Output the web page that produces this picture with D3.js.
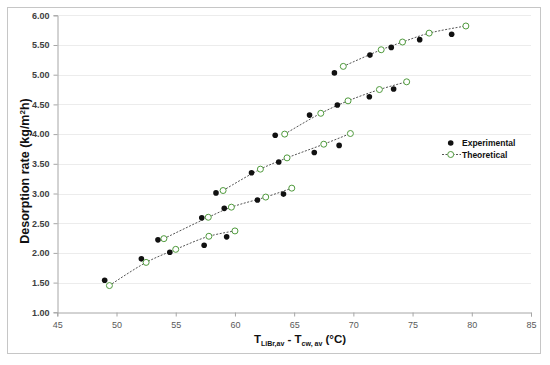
<!DOCTYPE html>
<html>
<head>
<meta charset="utf-8">
<script src="https://cdn.jsdelivr.net/npm/d3@7"></script>
<style>
  body { margin: 0; background: #fff; }
  text { font-family: "Liberation Sans", Arial, sans-serif; }
</style>
</head>
<body>
<div id="chart"></div>
<script>
// data, one run per group
var expX = [
  [49.0, 52.1, 54.5, 57.4, 59.3],
  [53.5, 57.2, 59.1, 61.9, 64.1],
  [58.4, 61.4, 63.7, 66.7, 68.8],
  [63.4, 66.3, 68.65, 71.35, 73.4],
  [68.4, 71.4, 73.2, 75.6, 78.3]
];
var expY = [
  [1.54, 1.90, 2.01, 2.13, 2.27],
  [2.22, 2.59, 2.75, 2.89, 2.99],
  [3.01, 3.35, 3.53, 3.69, 3.81],
  [3.98, 4.32, 4.49, 4.63, 4.76],
  [5.03, 5.33, 5.46, 5.59, 5.68]
];
var theoX = [
  [49.4, 52.5, 55.0, 57.8, 60.0],
  [54.0, 57.75, 59.7, 62.6, 64.8],
  [59.0, 62.15, 64.4, 67.5, 69.75],
  [64.2, 67.25, 69.55, 72.2, 74.5],
  [69.15, 72.35, 74.15, 76.4, 79.5]
];
var theoY = [
  [1.45, 1.84, 2.06, 2.28, 2.37],
  [2.24, 2.60, 2.77, 2.94, 3.09],
  [3.05, 3.41, 3.60, 3.83, 4.01],
  [4.00, 4.35, 4.56, 4.75, 4.88],
  [5.14, 5.42, 5.55, 5.70, 5.82]
];
var xTicks = [45, 50, 55, 60, 65, 70, 75, 80, 85];
var yTicks = [1.0, 1.5, 2.0, 2.5, 3.0, 3.5, 4.0, 4.5, 5.0, 5.5, 6.0];
var legendNames = ["Experimental", "Theoretical"];

var width = 550, height = 365;
var plotL = 57.3, plotR = 531, plotT = 15.3, plotB = 312.3;

var svg = d3.select("#chart").append("svg")
  .attr("width", width)
  .attr("height", height);

svg.append("rect")
  .attr("x", 7.5).attr("y", 7.5)
  .attr("width", 533).attr("height", 346)
  .attr("fill", "#fff")
  .attr("stroke", "#c6c6c6");

var x = d3.scaleLinear().domain([45, 85]).range([plotL, plotR]);
var y = d3.scaleLinear().domain([1, 6]).range([plotB, plotT]);

// gridlines
svg.append("g")
  .selectAll("line")
  .data(yTicks.slice(1))
  .enter().append("line")
  .attr("x1", plotL).attr("x2", plotR)
  .attr("y1", function(d) { return Math.round(y(d)) + 0.5 })
  .attr("y2", function(d) { return Math.round(y(d)) + 0.5 })
  .attr("stroke", "#ececec");

var xAxis = svg.append("g")
  .attr("transform", "translate(0," + (Math.round(plotB) + 0.5) + ")")
  .call(d3.axisBottom(x).tickValues(xTicks).tickSize(4).tickPadding(5));
xAxis.selectAll("text").attr("font-size", 9).attr("fill", "#595959");

var yAxis = svg.append("g")
  .attr("transform", "translate(" + (Math.round(plotL) + 0.5) + ",0)")
  .call(d3.axisLeft(y).tickValues(yTicks).tickFormat(d3.format(".2f")).tickSize(4).tickPadding(4));
yAxis.selectAll("text").attr("font-size", 9).attr("font-weight", "bold").attr("fill", "#404040");

svg.selectAll(".domain, .tick line").attr("stroke", "#a6a6a6");

// theoretical lines
var line = d3.line()
  .x(function(d) { return x(d[0]) })
  .y(function(d) { return y(d[1]) })
  .curve(d3.curveCatmullRom);

var theo = theoX.map(function(xs, i) {
  return xs.map(function(v, j) { return [v, theoY[i][j]] });
});
var expt = expX.map(function(xs, i) {
  return xs.map(function(v, j) { return [v, expY[i][j]] });
});

svg.append("g")
  .selectAll("path")
  .data(theo)
  .enter().append("path")
  .attr("d", line)
  .attr("fill", "none")
  .attr("stroke", "#555")
  .attr("stroke-width", 1)
  .attr("stroke-dasharray", "2,1.5");

svg.append("g")
  .selectAll("circle")
  .data(d3.merge(expt))
  .enter().append("circle")
  .attr("cx", function(d) { return x(d[0]) })
  .attr("cy", function(d) { return y(d[1]) })
  .attr("r", 2.8)
  .attr("fill", "#111");

svg.append("g")
  .selectAll("circle")
  .data(d3.merge(theo))
  .enter().append("circle")
  .attr("cx", function(d) { return x(d[0]) })
  .attr("cy", function(d) { return y(d[1]) })
  .attr("r", 3)
  .attr("fill", "#fff")
  .attr("stroke", "#4f9a3c")
  .attr("stroke-width", 1);

// legend
var lg = svg.append("g").attr("transform", "translate(442,143)");
lg.append("circle").attr("cx", 8.7).attr("cy", 0).attr("r", 2.8).attr("fill", "#111");
lg.append("line").attr("x1", 0).attr("x2", 19).attr("y1", 11.5).attr("y2", 11.5)
  .attr("stroke", "#555").attr("stroke-dasharray", "2,1.5");
lg.append("circle").attr("cx", 8.7).attr("cy", 11.5).attr("r", 3)
  .attr("fill", "#fff").attr("stroke", "#4f9a3c");
lg.selectAll("text")
  .data(legendNames)
  .enter().append("text")
  .attr("x", 20)
  .attr("y", function(d, i) { return i * 11.5 + 3 })
  .attr("font-size", 8.5)
  .attr("font-weight", "bold")
  .attr("fill", "#111")
  .text(function(d) { return d });

// axis titles
svg.append("text")
  .attr("transform", "translate(29,171) rotate(-90)")
  .attr("text-anchor", "middle")
  .attr("font-size", 12.5)
  .attr("font-weight", "bold")
  .attr("fill", "#111")
  .html("Desorption rate (kg/m<tspan dy='-4.5' font-size='8'>2</tspan><tspan dy='4.5'>h)</tspan>");

svg.append("text")
  .attr("x", 300)
  .attr("y", 343)
  .attr("text-anchor", "middle")
  .attr("font-size", 11.5)
  .attr("font-weight", "bold")
  .attr("fill", "#111")
  .html("T<tspan dy='3' font-size='7'>LiBr,av</tspan><tspan dy='-3'> - T</tspan><tspan dy='3' font-size='7'>cw, av</tspan><tspan dy='-3'> (°C)</tspan>");
</script>
</body>
</html>
